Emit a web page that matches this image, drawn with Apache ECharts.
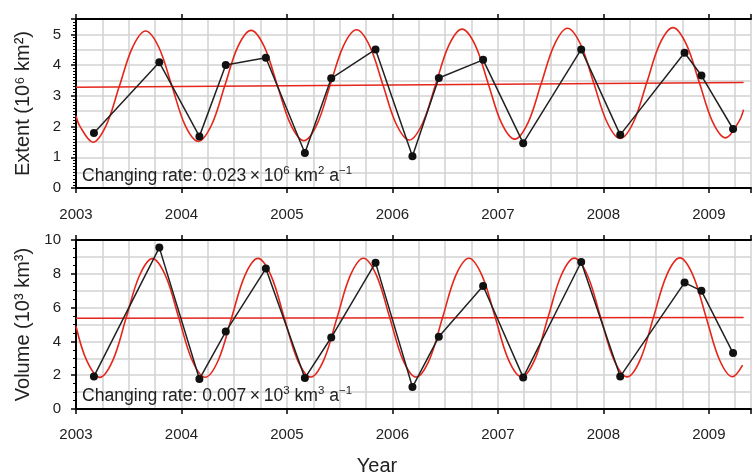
<!DOCTYPE html>
<html><head><meta charset="utf-8">
<script src="https://cdn.jsdelivr.net/npm/echarts@6/dist/echarts.min.js"></script>
<style>html,body{margin:0;padding:0;background:#fff}#c{width:754px;height:474px}</style>
</head><body><div id="c"></div><script>
// observation times (decimal year) and values
const obsYears = [2003.17, 2003.79, 2004.17, 2004.42, 2004.80, 2005.17, 2005.42, 2005.84, 2006.19, 2006.44, 2006.86, 2007.24, 2007.79, 2008.16, 2008.77, 2008.93, 2009.23];
const extentObs = [1.79, 4.09, 1.68, 4.00, 4.24, 1.14, 3.57, 4.51, 1.03, 3.58, 4.17, 1.46, 4.51, 1.73, 4.40, 3.66, 1.92];
const volumeObs = [1.93, 9.55, 1.77, 4.58, 8.31, 1.83, 4.23, 8.66, 1.30, 4.27, 7.28, 1.87, 8.70, 1.92, 7.48, 6.99, 3.31];

// fitted seasonal curve, extent
const extentFitT = [2003.0,
 2003.035,2003.16,2003.285,2003.41,2003.535,2003.66,2003.785,2003.91,
 2004.035,2004.16,2004.285,2004.41,2004.535,2004.66,2004.785,2004.91,
 2005.035,2005.16,2005.285,2005.41,2005.535,2005.66,2005.785,2005.91,
 2006.035,2006.16,2006.285,2006.41,2006.535,2006.66,2006.785,2006.91,
 2007.035,2007.16,2007.285,2007.41,2007.535,2007.66,2007.785,2007.91,
 2008.035,2008.16,2008.285,2008.41,2008.535,2008.66,2008.785,2008.91,
 2009.035,2009.16,2009.285,2009.33];
const extentFitV = [2.35,
 2.02,1.49,2.03,3.30,4.57,5.11,4.58,3.31,
 2.04,1.52,2.05,3.32,4.60,5.13,4.60,3.33,
 2.07,1.54,2.07,3.35,4.62,5.15,4.62,3.36,
 2.09,1.56,2.10,3.37,4.64,5.17,4.65,3.38,
 2.11,1.59,2.12,3.39,4.66,5.20,4.67,3.40,
 2.14,1.61,2.14,3.41,4.69,5.22,4.69,3.43,
 2.16,1.63,2.16,2.55];

// fitted seasonal curve, volume
const volumeFitT = [2003.0,
 2003.1,2003.225,2003.35,2003.475,2003.6,2003.725,2003.85,2003.975,
 2004.1,2004.225,2004.35,2004.475,2004.6,2004.725,2004.85,2004.975,
 2005.1,2005.225,2005.35,2005.475,2005.6,2005.725,2005.85,2005.975,
 2006.1,2006.225,2006.35,2006.475,2006.6,2006.725,2006.85,2006.975,
 2007.1,2007.225,2007.35,2007.475,2007.6,2007.725,2007.85,2007.975,
 2008.1,2008.225,2008.35,2008.475,2008.6,2008.725,2008.85,2008.975,
 2009.1,2009.225,2009.32];
const volumeFitV = [4.9,
 2.89,1.87,2.89,5.38,7.87,8.90,7.87,5.39,
 2.90,1.88,2.90,5.39,7.88,8.91,7.88,5.39,
 2.91,1.89,2.91,5.40,7.89,8.92,7.89,5.40,
 2.91,1.89,2.91,5.40,7.89,8.92,7.89,5.41,
 2.92,1.90,2.92,5.41,7.90,8.93,7.90,5.41,
 2.92,1.90,2.92,5.42,7.91,8.94,7.91,5.42,
 2.93,1.91,2.6];

// linear trends
const trendT = [2003.0, 2009.33];
const extentTrendV = [3.28, 3.43];
const volumeTrendV = [5.37, 5.42];

const zip = (a, b) => a.map((x, i) => [x, b[i]]);

const FONT = 'Liberation Sans, Arial, sans-serif';
const TXT = '#222';
const GRIDC = '#d2d2d2';
const RED = '#e4261b';

function xAx(gi, pos, labels) {
  return {
    type: 'value', gridIndex: gi, position: pos, min: 2003, max: 2009.4, interval: 1,
    axisLine: { show: true, onZero: false, lineStyle: { color: '#000', width: 2 } },
    axisTick: { show: true, inside: false, length: 5, lineStyle: { color: '#000', width: 1.5 } },
    axisLabel: { show: labels, fontFamily: FONT, fontSize: 15, color: TXT, margin: gi === 0 ? 19 : 18,
      formatter: v => Number.isInteger(v) ? String(v) : '' },
    splitLine: { show: labels, lineStyle: { color: GRIDC, width: 1.5 } },
    minorTick: { show: false, splitNumber: 4 },
    minorSplitLine: { show: labels, lineStyle: { color: GRIDC, width: 1.5 } }
  };
}
function yLabelAx(gi, max, interval, minorN, name) {
  return {
    type: 'value', gridIndex: gi, min: 0, max: max, interval: interval, position: 'left',
    axisLine: { show: true, lineStyle: { color: '#000', width: 2 } },
    axisTick: { show: true, length: 5, lineStyle: { color: '#000', width: 1.5 } },
    minorTick: { show: true, splitNumber: minorN, length: 3, lineStyle: { color: '#000', width: 1 } },
    axisLabel: { fontFamily: FONT, fontSize: 15, color: TXT, margin: 15,
      formatter: v => (Number.isInteger(v) ? String(v) : '') },
    splitLine: { show: false },
    name: name, nameLocation: 'middle', nameGap: 43,
    nameTextStyle: { fontFamily: FONT, fontSize: 20, color: TXT }
  };
}
function yGridAx(gi, max, interval) {
  return {
    type: 'value', gridIndex: gi, min: 0, max: max, interval: interval, position: 'left',
    axisLine: { show: false }, axisTick: { show: false }, axisLabel: { show: false },
    splitLine: { show: true, lineStyle: { color: GRIDC, width: 1.5 } }
  };
}

const richStyle = {
  a: { fontFamily: FONT, fontSize: 17.6, fill: TXT, color: TXT, verticalAlign: 'bottom', lineHeight: 20 },
  s: { fontFamily: FONT, fontSize: 11.5, fill: TXT, color: TXT, verticalAlign: 'top', lineHeight: 20 }
};

const option = {
  animation: false,
  backgroundColor: '#fff',
  grid: [
    { left: 76, top: 19, width: 679, height: 169 },
    { left: 76, top: 240, width: 679, height: 169 }
  ],
  xAxis: [xAx(0, 'bottom', true), xAx(0, 'top', false), xAx(1, 'bottom', true), xAx(1, 'top', false)],
  yAxis: [
    yLabelAx(0, 5.5, 1, 10, 'Extent (10⁶ km²)'),
    yGridAx(0, 5.5, 0.5),
    yLabelAx(1, 10, 2, 4, 'Volume (10³ km³)'),
    yGridAx(1, 10, 1)
  ],
  series: [
    { type: 'line', xAxisIndex: 0, yAxisIndex: 0, data: zip(trendT, extentTrendV), symbol: 'none',
      lineStyle: { color: RED, width: 1.5 } },
    { type: 'line', xAxisIndex: 0, yAxisIndex: 0, data: zip(extentFitT, extentFitV), symbol: 'none', smooth: 0.34,
      lineStyle: { color: RED, width: 1.6 } },
    { type: 'line', xAxisIndex: 0, yAxisIndex: 0, data: zip(obsYears, extentObs), symbol: 'circle', symbolSize: 8,
      itemStyle: { color: '#111' }, lineStyle: { color: '#222', width: 1.5 } },
    { type: 'line', xAxisIndex: 2, yAxisIndex: 2, data: zip(trendT, volumeTrendV), symbol: 'none',
      lineStyle: { color: RED, width: 1.5 } },
    { type: 'line', xAxisIndex: 2, yAxisIndex: 2, data: zip(volumeFitT, volumeFitV), symbol: 'none', smooth: 0.34,
      lineStyle: { color: RED, width: 1.6 } },
    { type: 'line', xAxisIndex: 2, yAxisIndex: 2, data: zip(obsYears, volumeObs), symbol: 'circle', symbolSize: 8,
      itemStyle: { color: '#111' }, lineStyle: { color: '#222', width: 1.5 } }
  ],
  graphic: [
    { type: 'text', left: 82, top: 165, z: 100, style: {
      text: '{a|Changing rate: 0.023\u2009×\u200910}{s|6}{a| km}{s|2}{a| a}{s|−1}', rich: richStyle } },
    { type: 'text', left: 82, top: 385, z: 100, style: {
      text: '{a|Changing rate: 0.007\u2009×\u200910}{s|3}{a| km}{s|3}{a| a}{s|−1}', rich: richStyle } },
    { type: 'text', left: 'center', top: 456, style: { text: 'Year', fontFamily: FONT, fontSize: 20, fill: TXT } }
  ]
};
const chart = echarts.init(document.getElementById('c'), null, { renderer: 'canvas' });
chart.setOption(option);
</script></body></html>
